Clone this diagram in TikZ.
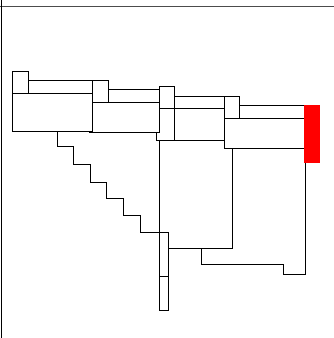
\documentclass[tikz,border=0pt]{standalone}
\begin{document}
\begin{tikzpicture}[x=1pt,y=-1pt,ln/.style={draw=black,line width=0.8pt,line cap=rect},redbar/.style={fill=red,draw=none}]
\useasboundingbox (0,0) rectangle (334,338);
% frame
\draw[ln,draw=black!70] (0,6) -- (334,6);
\draw[ln,line width=1pt] (1,0) -- (1,338);
% group 1
\draw[ln] (12,71) rectangle (28,93.3);
\draw[ln] (28,80.3) -- (108.3,80.3) -- (108.3,102.7);
\draw[ln] (92.7,80.3) -- (92.7,131.5);
\draw[ln] (12,93.3) rectangle (92.7,131.5);
% group 2
\draw[ln] (108.3,89.7) -- (159.3,89.7);
\draw[ln] (93,102.7) -- (159.3,102.7);
\draw[ln] (159.3,86.5) -- (159.3,132);
\draw[ln] (89,132) -- (159.3,132);
\draw[ln] (156.7,132) -- (156.7,140.7);
% group 3
\draw[ln] (159.3,86.5) -- (174.7,86.5) -- (174.7,140.7);
\draw[ln] (174.7,96) -- (239.5,96);
\draw[ln] (159.3,108.5) -- (224,108.5);
\draw[ln] (224,96) -- (224,148.3);
\draw[ln] (156.7,140.7) -- (224,140.7);
% group 4
\draw[ln] (224,96) rectangle (239.5,118.3);
\draw[ln] (239.5,105.5) -- (304,105.5);
\draw[ln] (224,118.3) -- (304,118.3);
\draw[ln] (224,148.3) -- (305,148.3);
\fill[redbar] (304,105) rectangle (320,163);
\draw[ln] (305,163) -- (305,274.3);
% lower part
\draw[ln] (159.3,140.7) -- (159.3,310.7);
\draw[ln] (232.5,148.3) -- (232.5,248.3);
\draw[ln] (57.3,131.5) -- (57.3,146.3) -- (73.3,146.3) -- (73.3,164.7) -- (90,164.7) -- (90,182) -- (106.7,182) -- (106.7,198.7) -- (123.7,198.7) -- (123.7,215.3) -- (140.7,215.3) -- (140.7,232) -- (168.3,232) -- (168.3,310.7) -- (159.3,310.7);
\draw[ln] (159.3,276.7) -- (168.3,276.7);
\draw[ln] (168.3,248.3) -- (232.5,248.3);
\draw[ln] (201.7,248.3) -- (201.7,264) -- (283.3,264) -- (283.3,274.3) -- (305,274.3);
\end{tikzpicture}
\end{document}
